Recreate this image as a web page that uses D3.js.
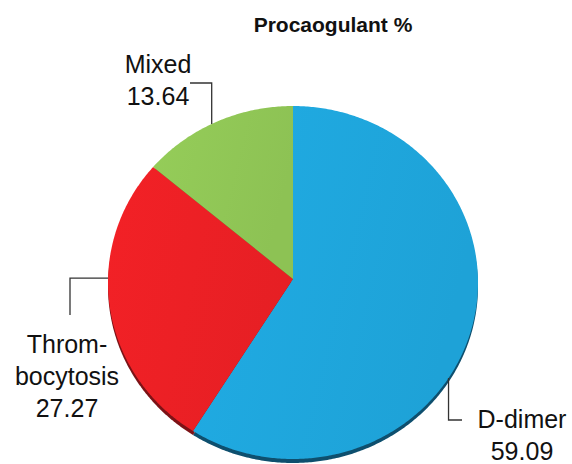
<!DOCTYPE html>
<html>
<head>
<meta charset="utf-8">
<script src="https://cdn.jsdelivr.net/npm/d3@7/dist/d3.min.js"></script>
<style>
  html, body { margin: 0; padding: 0; background: #fff; }
  svg { display: block; }
</style>
</head>
<body>
<svg id="chart" width="572" height="464"></svg>
<script>
// ---- Data ----
const title = "Procaogulant %";
const categories = ["D-dimer", "Thrombocytosis", "Mixed"];
const labelLines = [["D-dimer"], ["Throm-", "bocytosis"], ["Mixed"]];
const values = [59.09, 27.27, 13.64];
const colors = ["#1fa8df", "#ee2025", "#92c957"];
const sideColors = ["#0e4f6e", "#7c1216", "#4d6e28"];

// ---- Layout ----
const svg = d3.select("#chart");
const vx = 293, vy = 279;        // slice apex
const ecx = 293, ecy = 282.5;    // ellipse centre of top face
const rx = 185, ry = 176.5;
const depth = 4;

// Pie layout: clockwise starting at 12 o'clock, D-dimer first
const pie = d3.pie().sort(null).value(d => d)
  .startAngle(0).endAngle(2 * Math.PI);
const arcs = pie(values);

const pt = a => [ecx + rx * Math.sin(a), ecy - ry * Math.cos(a)];

function slicePath(a0, a1, dy) {
  const p = d3.path();
  p.moveTo(vx, vy + dy);
  const n = Math.max(8, Math.ceil((a1 - a0) / 0.01));
  for (let i = 0; i <= n; i++) {
    const a = a0 + (a1 - a0) * i / n;
    const [x, y] = pt(a);
    p.lineTo(x, y + dy);
  }
  p.closePath();
  return p.toString();
}

// side (depth) layer
svg.append("g").selectAll("path").data(arcs).join("path")
  .attr("d", d => slicePath(d.startAngle, d.endAngle, depth))
  .attr("fill", (d, i) => sideColors[i]);

// subtle shading gradient
const defs = svg.append("defs");
colors.forEach((c, i) => {
  const g = defs.append("linearGradient").attr("id", "g" + i)
    .attr("x1", "0").attr("y1", "0").attr("x2", "1").attr("y2", "0.3");
  g.append("stop").attr("offset", "0").attr("stop-color", d3.color(c).brighter(0.06));
  g.append("stop").attr("offset", "1").attr("stop-color", d3.color(c).darker(0.1));
});

svg.append("g").selectAll("path").data(arcs).join("path")
  .attr("d", d => slicePath(d.startAngle, d.endAngle, 0))
  .attr("fill", (d, i) => `url(#g${i})`);

// ---- Title ----
svg.append("text")
  .attr("x", 333).attr("y", 32)
  .attr("text-anchor", "middle")
  .attr("font-family", "Liberation Sans, Arial, sans-serif")
  .attr("font-weight", "bold")
  .attr("font-size", 21)
  .attr("fill", "#111")
  .text(title);

// ---- Leader lines & labels ----
const leaders = [
  { ang: 2.143,
    path: (p) => [[p[0], p[1]], [p[0], 420], [462, 420]],
    tx: 522, ty: 428 },
  { ang: 3 * Math.PI / 2 + 0.025,
    path: (p) => [[p[0], p[1]], [70, p[1]], [70, 315]],
    tx: 67, ty: 353 },
  { ang: 2 * Math.PI - 0.455,
    path: (p) => [[p[0], p[1]], [p[0], 83], [190, 83]],
    tx: 158, ty: 73 }
];

const lineGen = d3.line();
leaders.forEach((L, i) => {
  const p = pt(L.ang);
  svg.append("path")
    .attr("d", lineGen(L.path(p)))
    .attr("fill", "none")
    .attr("stroke", "#333")
    .attr("stroke-width", 1.3);
  const t = svg.append("text")
    .attr("text-anchor", "middle")
    .attr("font-family", "Liberation Sans, Arial, sans-serif")
    .attr("font-size", 25)
    .attr("fill", "#111");
  const lines = labelLines[i].concat([values[i].toFixed(2)]);
  lines.forEach((s, k) => {
    t.append("tspan").attr("x", L.tx).attr("y", L.ty + k * 32).text(s);
  });
});
</script>
</body>
</html>
